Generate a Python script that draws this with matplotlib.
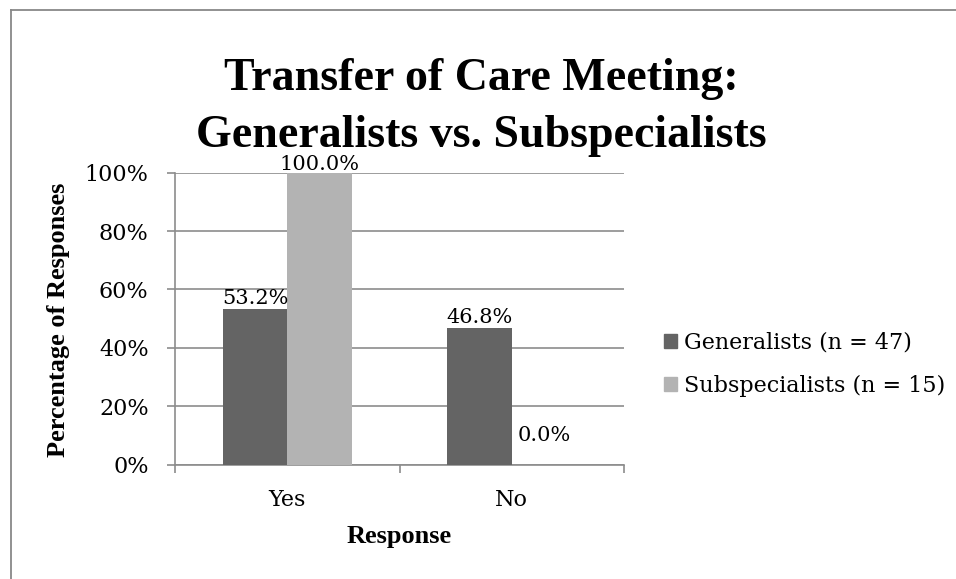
import matplotlib
matplotlib.use('Agg')
import matplotlib.pyplot as plt
from matplotlib.lines import Line2D
from matplotlib.patches import Patch
import numpy as np

# data
categories = ['Yes', 'No']
generalists = [0.532, 0.468]
subspecialists = [1.000, 0.000]
series_names = ['Generalists (n = 47)', 'Subspecialists (n = 15)']
yticks = [0, 0.2, 0.4, 0.6, 0.8, 1.0]
ytick_labels = ['0%', '20%', '40%', '60%', '80%', '100%']

dark_grey = '#646464'
light_grey = '#b3b3b3'
line_grey = '#8c8c8c'
serif_bold = 'Liberation Serif'
serif_text = 'DejaVu Serif'

fig = plt.figure(figsize=(9.56, 5.79), dpi=100)
ax = fig.add_axes([175 / 956, 1 - 464.5 / 579, 449 / 956, 291.8 / 579])

x = np.arange(len(categories))
width = 0.287
bars1 = ax.bar(x - width / 2, generalists, width, color=dark_grey, zorder=3)
bars2 = ax.bar(x + width / 2, subspecialists, width, color=light_grey, zorder=3)

# value labels above bars (Excel lifts the zero label higher)
for bars, vals in [(bars1, generalists), (bars2, subspecialists)]:
    for b, v in zip(bars, vals):
        if v == 0:
            off = 14
        elif v >= 1:
            off = -1
        else:
            off = 1
        ax.annotate('%.1f%%' % (v * 100), (b.get_x() + b.get_width() / 2, v),
                    xytext=(0, off), textcoords='offset points',
                    ha='center', va='bottom', fontsize=15, family=serif_text,
                    color='black', zorder=4)

ax.set_xlim(-0.5, len(categories) - 0.5)
ax.set_ylim(0, 1)
ax.set_yticks(yticks)
ax.set_yticklabels(ytick_labels, family=serif_text, fontsize=16)
ax.set_xticks(x)
ax.set_xticklabels(categories, family=serif_text, fontsize=16)
ax.tick_params(axis='x', length=0, pad=18)
ax.tick_params(axis='y', length=6, width=1.2, color=line_grey, pad=13)
# category separators on the x axis
ax.set_xticks([-0.5, 0.5, 1.5], minor=True)
ax.tick_params(axis='x', which='minor', length=6, width=1.2, color=line_grey)

ax.grid(axis='y', color=line_grey, linewidth=1.2, zorder=0)
for s in ['top', 'right']:
    ax.spines[s].set_visible(False)
for s in ['left', 'bottom']:
    ax.spines[s].set_color(line_grey)
    ax.spines[s].set_linewidth(1.2)

# titles and axis labels
fig.text(481 / 956, 1 - 107.5 / 579, 'Transfer of Care Meeting:\nGeneralists vs. Subspecialists',
         ha='center', va='center', fontsize=33, fontweight='bold', family=serif_bold,
         linespacing=1.44)
fig.text(59 / 956, 1 - 320 / 579, 'Percentage of Responses', rotation=90,
         ha='center', va='center', fontsize=19, fontweight='bold', family=serif_bold)
fig.text(399 / 956, 1 - 537 / 579, 'Response', ha='center', va='center',
         fontsize=19, fontweight='bold', family=serif_bold)

handles = [Patch(color=dark_grey), Patch(color=light_grey)]
fig.legend(handles, series_names, loc='center left',
           bbox_to_anchor=(664 / 956, 1 - 364 / 579), frameon=False,
           prop={'family': serif_text, 'size': 16}, handlelength=0.6,
           handleheight=0.6, handletextpad=0.3, labelspacing=0.95, borderpad=0,
           borderaxespad=0)

# outer chart border (top and left edges visible)
fig.add_artist(Line2D([10.5 / 956, 1], [1 - 9.5 / 579, 1 - 9.5 / 579],
                      transform=fig.transFigure, color='#888888', linewidth=1.3))
fig.add_artist(Line2D([10.5 / 956, 10.5 / 956], [0, 1 - 9.5 / 579],
                      transform=fig.transFigure, color='#888888', linewidth=1.3))

fig.savefig('out.png', dpi=100)
